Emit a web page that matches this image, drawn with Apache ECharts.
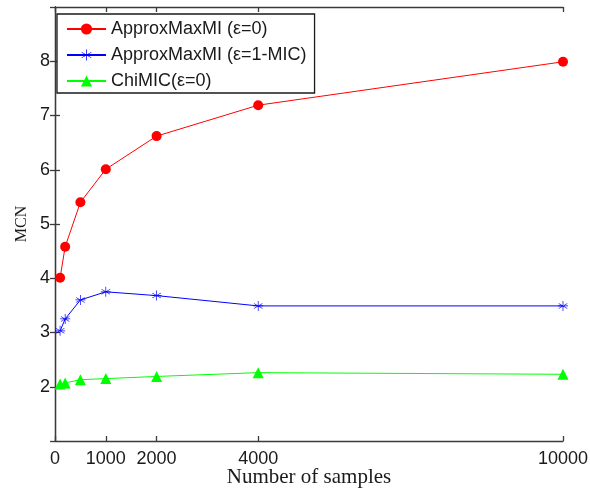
<!DOCTYPE html>
<html style="height: 100%">
<head>
<meta charset="utf-8">
</head>
<body style="height: 100%; margin: 0; background: #fff">
<div id="container" style="width: 590px; height: 490px"></div>
<script src="https://cdn.jsdelivr.net/npm/echarts@6/dist/echarts.min.js"></script>
<script>
// data
var samples = [100, 200, 500, 1000, 2000, 4000, 10000];
var approxEps0 = [4.01, 4.58, 5.40, 6.01, 6.62, 7.19, 7.99];
var approxEpsMic = [3.03, 3.25, 3.60, 3.75, 3.68, 3.49, 3.49];
var chiMic = [2.05, 2.07, 2.13, 2.15, 2.19, 2.26, 2.23];
var xTicks = [0, 1000, 2000, 4000, 10000];

function pairs(ys) {
    return samples.map(function (x, i) { return [x, ys[i]]; });
}

// asterisk marker, built from thin bars
var star = 'path://M-0.7,-10L0.7,-10L0.7,10L-0.7,10Z' +
    'M-8.9,-4.5L-8.3,-5.5L8.9,4.5L8.3,5.5Z' +
    'M-8.9,4.5L-8.3,5.5L8.9,-4.5L8.3,-5.5Z' +
    'M-10,-0.7L10,-0.7L10,0.7L-10,0.7Z';

var lineAxis = {lineStyle: {color: '#3a3a3a', width: 1.3}};
var tickIn = {inside: true, length: 5, lineStyle: {color: '#3a3a3a', width: 1.3}};
var labelFont = {fontFamily: 'Liberation Sans', fontSize: 18, color: '#1a1a1a'};
var nameFont = {fontFamily: 'Liberation Serif', color: '#1a1a1a'};

var myChart = echarts.init(document.getElementById('container'));
var option = {
    animation: false,
    grid: {left: 55, right: 27, top: 7, bottom: 49, outerBoundsMode: 'none'},
    legend: {
        left: 57, top: 14,
        orient: 'vertical',
        itemWidth: 39, itemHeight: 14, itemGap: 8,
        padding: [6, 8, 3, 9],
        borderColor: '#1a1a1a', borderWidth: 1.3,
        backgroundColor: '#fff',
        textStyle: {fontFamily: 'Liberation Sans', fontSize: 18, color: '#1a1a1a'}
    },
    xAxis: [{
        type: 'value', min: 0, max: 10000,
        name: 'Number of samples', nameLocation: 'middle', nameGap: 26,
        nameMoveOverlap: false,
        nameTextStyle: Object.assign({fontSize: 21}, nameFont),
        axisLine: lineAxis, splitLine: {show: false},
        axisTick: Object.assign({customValues: xTicks}, tickIn),
        axisLabel: Object.assign({
            customValues: xTicks, margin: 9,
            formatter: function (v) { return String(v); }
        }, labelFont)
    }, {
        type: 'value', min: 0, max: 10000, position: 'top',
        axisLine: lineAxis, splitLine: {show: false},
        axisTick: Object.assign({customValues: xTicks}, tickIn),
        axisLabel: {show: false}
    }],
    yAxis: [{
        type: 'value', min: 1, max: 9, interval: 1,
        name: 'MCN', nameLocation: 'middle', nameGap: 25,
        nameMoveOverlap: false,
        nameTextStyle: Object.assign({fontSize: 16}, nameFont),
        axisLine: lineAxis, splitLine: {show: false},
        axisTick: tickIn,
        axisLabel: Object.assign({showMinLabel: false, showMaxLabel: false, margin: 5}, labelFont)
    }, {
        type: 'value', min: 1, max: 9, interval: 1, position: 'right',
        axisLine: lineAxis, splitLine: {show: false},
        axisTick: tickIn,
        axisLabel: {show: false}
    }],
    series: [{
        name: 'ApproxMaxMI (ε=0)', type: 'line',
        data: pairs(approxEps0),
        symbol: 'circle', symbolSize: 10,
        itemStyle: {color: '#ff0000'},
        lineStyle: {color: '#ff0000', width: 1}
    }, {
        name: 'ApproxMaxMI (ε=1-MIC)', type: 'line',
        data: pairs(approxEpsMic),
        symbol: star, symbolSize: 10,
        itemStyle: {color: '#0000ff'},
        lineStyle: {color: '#0000ff', width: 1}
    }, {
        name: 'ChiMIC(ε=0)', type: 'line',
        data: pairs(chiMic),
        symbol: 'triangle', symbolSize: 11,
        itemStyle: {color: '#00ff00'},
        lineStyle: {color: '#00ff00', width: 1}
    }]
};
myChart.setOption(option);
</script>
</body>
</html>
